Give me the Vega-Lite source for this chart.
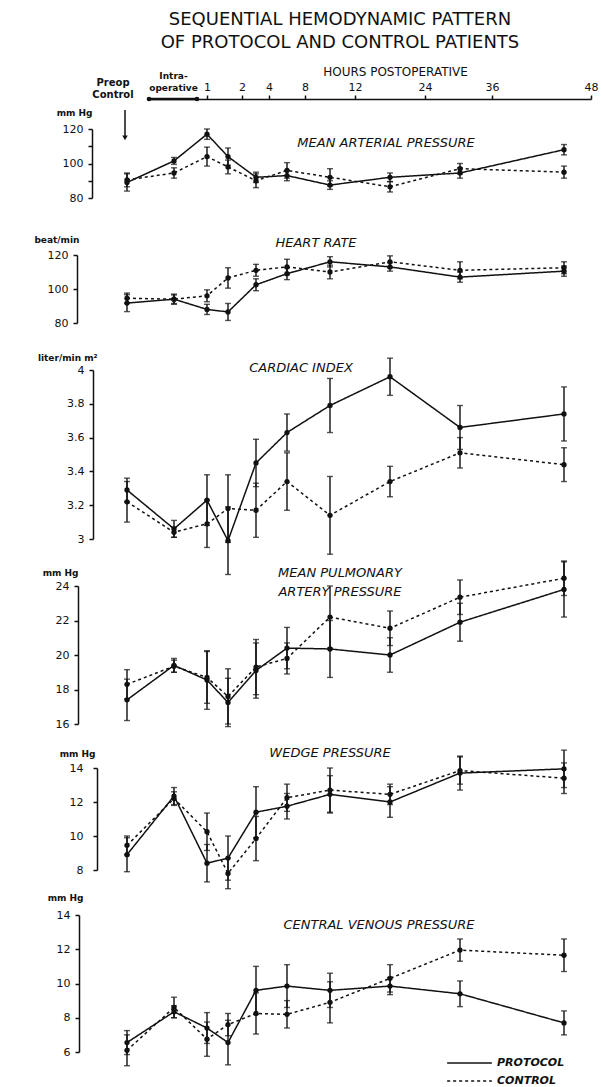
{
  "$schema": "https://vega.github.io/schema/vega-lite/v6.json",
  "autosize": {"type": "none"},
  "width": 498,
  "height": 1087,
  "padding": {"left": 97, "right": 7, "top": 0, "bottom": 0},
  "background": "white",
  "title": {
    "text": ["SEQUENTIAL HEMODYNAMIC PATTERN", "OF PROTOCOL AND CONTROL PATIENTS"],
    "font": "DejaVu Sans", "fontSize": 18, "fontWeight": "normal", "lineHeight": 23,
    "color": "#111", "anchor": "middle", "offset": -52, "dx": -6
  },
  "data": {"values": [
    {"measure": "MAP", "group": "PROTOCOL", "t": -2, "mean": 89, "sem": 5},
    {"measure": "MAP", "group": "PROTOCOL", "t": -1, "mean": 101.5, "sem": 2},
    {"measure": "MAP", "group": "PROTOCOL", "t": 1, "mean": 117, "sem": 3},
    {"measure": "MAP", "group": "PROTOCOL", "t": 2, "mean": 104, "sem": 5},
    {"measure": "MAP", "group": "PROTOCOL", "t": 4, "mean": 92, "sem": 3},
    {"measure": "MAP", "group": "PROTOCOL", "t": 8, "mean": 93, "sem": 3},
    {"measure": "MAP", "group": "PROTOCOL", "t": 12, "mean": 87.5, "sem": 2.5},
    {"measure": "MAP", "group": "PROTOCOL", "t": 24, "mean": 92, "sem": 2.5},
    {"measure": "MAP", "group": "PROTOCOL", "t": 36, "mean": 94.5, "sem": 3},
    {"measure": "MAP", "group": "PROTOCOL", "t": 48, "mean": 108, "sem": 3},
    {"measure": "MAP", "group": "CONTROL", "t": -2, "mean": 90.5, "sem": 4},
    {"measure": "MAP", "group": "CONTROL", "t": -1, "mean": 94.5, "sem": 3},
    {"measure": "MAP", "group": "CONTROL", "t": 1, "mean": 104, "sem": 5.5},
    {"measure": "MAP", "group": "CONTROL", "t": 2, "mean": 98, "sem": 4},
    {"measure": "MAP", "group": "CONTROL", "t": 4, "mean": 90, "sem": 4},
    {"measure": "MAP", "group": "CONTROL", "t": 8, "mean": 96, "sem": 4.5},
    {"measure": "MAP", "group": "CONTROL", "t": 12, "mean": 92, "sem": 5},
    {"measure": "MAP", "group": "CONTROL", "t": 24, "mean": 86.5, "sem": 3},
    {"measure": "MAP", "group": "CONTROL", "t": 36, "mean": 97, "sem": 3},
    {"measure": "MAP", "group": "CONTROL", "t": 48, "mean": 95, "sem": 3.5},
    {"measure": "HR", "group": "PROTOCOL", "t": -2, "mean": 91.7, "sem": 5},
    {"measure": "HR", "group": "PROTOCOL", "t": -1, "mean": 94, "sem": 3},
    {"measure": "HR", "group": "PROTOCOL", "t": 1, "mean": 88, "sem": 3},
    {"measure": "HR", "group": "PROTOCOL", "t": 2, "mean": 86.5, "sem": 5},
    {"measure": "HR", "group": "PROTOCOL", "t": 4, "mean": 102.5, "sem": 3.5},
    {"measure": "HR", "group": "PROTOCOL", "t": 8, "mean": 109, "sem": 3.5},
    {"measure": "HR", "group": "PROTOCOL", "t": 12, "mean": 116, "sem": 3},
    {"measure": "HR", "group": "PROTOCOL", "t": 24, "mean": 113, "sem": 2.5},
    {"measure": "HR", "group": "PROTOCOL", "t": 36, "mean": 107, "sem": 3},
    {"measure": "HR", "group": "PROTOCOL", "t": 48, "mean": 110.5, "sem": 3},
    {"measure": "HR", "group": "CONTROL", "t": -2, "mean": 94.6, "sem": 3},
    {"measure": "HR", "group": "CONTROL", "t": -1, "mean": 94, "sem": 2.5},
    {"measure": "HR", "group": "CONTROL", "t": 1, "mean": 96, "sem": 3.5},
    {"measure": "HR", "group": "CONTROL", "t": 2, "mean": 106.5, "sem": 6},
    {"measure": "HR", "group": "CONTROL", "t": 4, "mean": 111, "sem": 3.5},
    {"measure": "HR", "group": "CONTROL", "t": 8, "mean": 113, "sem": 4.5},
    {"measure": "HR", "group": "CONTROL", "t": 12, "mean": 110, "sem": 4},
    {"measure": "HR", "group": "CONTROL", "t": 24, "mean": 116, "sem": 3.5},
    {"measure": "HR", "group": "CONTROL", "t": 36, "mean": 111, "sem": 5},
    {"measure": "HR", "group": "CONTROL", "t": 48, "mean": 112.5, "sem": 3.5},
    {"measure": "CI", "group": "PROTOCOL", "t": -2, "mean": 3.29, "sem": 0.07},
    {"measure": "CI", "group": "PROTOCOL", "t": -1, "mean": 3.06, "sem": 0.05},
    {"measure": "CI", "group": "PROTOCOL", "t": 1, "mean": 3.23, "sem": 0.15},
    {"measure": "CI", "group": "PROTOCOL", "t": 2, "mean": 2.99, "sem": 0.2},
    {"measure": "CI", "group": "PROTOCOL", "t": 4, "mean": 3.45, "sem": 0.14},
    {"measure": "CI", "group": "PROTOCOL", "t": 8, "mean": 3.63, "sem": 0.11},
    {"measure": "CI", "group": "PROTOCOL", "t": 12, "mean": 3.79, "sem": 0.16},
    {"measure": "CI", "group": "PROTOCOL", "t": 24, "mean": 3.96, "sem": 0.11},
    {"measure": "CI", "group": "PROTOCOL", "t": 36, "mean": 3.66, "sem": 0.13},
    {"measure": "CI", "group": "PROTOCOL", "t": 48, "mean": 3.74, "sem": 0.16},
    {"measure": "CI", "group": "CONTROL", "t": -2, "mean": 3.22, "sem": 0.12},
    {"measure": "CI", "group": "CONTROL", "t": -1, "mean": 3.04, "sem": 0.03},
    {"measure": "CI", "group": "CONTROL", "t": 1, "mean": 3.09, "sem": 0.14},
    {"measure": "CI", "group": "CONTROL", "t": 2, "mean": 3.18, "sem": 0.2},
    {"measure": "CI", "group": "CONTROL", "t": 4, "mean": 3.17, "sem": 0.16},
    {"measure": "CI", "group": "CONTROL", "t": 8, "mean": 3.34, "sem": 0.17},
    {"measure": "CI", "group": "CONTROL", "t": 12, "mean": 3.14, "sem": 0.23},
    {"measure": "CI", "group": "CONTROL", "t": 24, "mean": 3.34, "sem": 0.09},
    {"measure": "CI", "group": "CONTROL", "t": 36, "mean": 3.51, "sem": 0.09},
    {"measure": "CI", "group": "CONTROL", "t": 48, "mean": 3.44, "sem": 0.1},
    {"measure": "MPAP", "group": "PROTOCOL", "t": -2, "mean": 17.4, "sem": 1.2},
    {"measure": "MPAP", "group": "PROTOCOL", "t": -1, "mean": 19.4, "sem": 0.4},
    {"measure": "MPAP", "group": "PROTOCOL", "t": 1, "mean": 18.55, "sem": 1.7},
    {"measure": "MPAP", "group": "PROTOCOL", "t": 2, "mean": 17.25, "sem": 1.4},
    {"measure": "MPAP", "group": "PROTOCOL", "t": 4, "mean": 19.1, "sem": 1.6},
    {"measure": "MPAP", "group": "PROTOCOL", "t": 8, "mean": 20.4, "sem": 1.2},
    {"measure": "MPAP", "group": "PROTOCOL", "t": 12, "mean": 20.35, "sem": 1.65},
    {"measure": "MPAP", "group": "PROTOCOL", "t": 24, "mean": 20, "sem": 1},
    {"measure": "MPAP", "group": "PROTOCOL", "t": 36, "mean": 21.9, "sem": 1.1},
    {"measure": "MPAP", "group": "PROTOCOL", "t": 48, "mean": 23.8, "sem": 1.6},
    {"measure": "MPAP", "group": "CONTROL", "t": -2, "mean": 18.3, "sem": 0.85},
    {"measure": "MPAP", "group": "CONTROL", "t": -1, "mean": 19.35, "sem": 0.35},
    {"measure": "MPAP", "group": "CONTROL", "t": 1, "mean": 18.7, "sem": 1.5},
    {"measure": "MPAP", "group": "CONTROL", "t": 2, "mean": 17.6, "sem": 1.6},
    {"measure": "MPAP", "group": "CONTROL", "t": 4, "mean": 19.3, "sem": 1.6},
    {"measure": "MPAP", "group": "CONTROL", "t": 8, "mean": 19.8, "sem": 0.9},
    {"measure": "MPAP", "group": "CONTROL", "t": 12, "mean": 22.2, "sem": 1.8},
    {"measure": "MPAP", "group": "CONTROL", "t": 24, "mean": 21.55, "sem": 1},
    {"measure": "MPAP", "group": "CONTROL", "t": 36, "mean": 23.35, "sem": 1},
    {"measure": "MPAP", "group": "CONTROL", "t": 48, "mean": 24.45, "sem": 1},
    {"measure": "WEDGE", "group": "PROTOCOL", "t": -2, "mean": 8.9, "sem": 1},
    {"measure": "WEDGE", "group": "PROTOCOL", "t": -1, "mean": 12.35, "sem": 0.5},
    {"measure": "WEDGE", "group": "PROTOCOL", "t": 1, "mean": 8.4, "sem": 1.1},
    {"measure": "WEDGE", "group": "PROTOCOL", "t": 2, "mean": 8.7, "sem": 1.3},
    {"measure": "WEDGE", "group": "PROTOCOL", "t": 4, "mean": 11.4, "sem": 1.5},
    {"measure": "WEDGE", "group": "PROTOCOL", "t": 8, "mean": 11.75, "sem": 0.75},
    {"measure": "WEDGE", "group": "PROTOCOL", "t": 12, "mean": 12.45, "sem": 1.1},
    {"measure": "WEDGE", "group": "PROTOCOL", "t": 24, "mean": 12, "sem": 0.9},
    {"measure": "WEDGE", "group": "PROTOCOL", "t": 36, "mean": 13.7, "sem": 1},
    {"measure": "WEDGE", "group": "PROTOCOL", "t": 48, "mean": 13.95, "sem": 1.1},
    {"measure": "WEDGE", "group": "CONTROL", "t": -2, "mean": 9.45, "sem": 0.55},
    {"measure": "WEDGE", "group": "CONTROL", "t": -1, "mean": 12.2, "sem": 0.4},
    {"measure": "WEDGE", "group": "CONTROL", "t": 1, "mean": 10.25, "sem": 1.1},
    {"measure": "WEDGE", "group": "CONTROL", "t": 2, "mean": 7.8, "sem": 0.9},
    {"measure": "WEDGE", "group": "CONTROL", "t": 4, "mean": 9.85, "sem": 1.3},
    {"measure": "WEDGE", "group": "CONTROL", "t": 8, "mean": 12.25, "sem": 0.8},
    {"measure": "WEDGE", "group": "CONTROL", "t": 12, "mean": 12.7, "sem": 1.3},
    {"measure": "WEDGE", "group": "CONTROL", "t": 24, "mean": 12.45, "sem": 0.6},
    {"measure": "WEDGE", "group": "CONTROL", "t": 36, "mean": 13.85, "sem": 0.8},
    {"measure": "WEDGE", "group": "CONTROL", "t": 48, "mean": 13.4, "sem": 0.9},
    {"measure": "CVP", "group": "PROTOCOL", "t": -2, "mean": 6.55, "sem": 0.7},
    {"measure": "CVP", "group": "PROTOCOL", "t": -1, "mean": 8.35, "sem": 0.35},
    {"measure": "CVP", "group": "PROTOCOL", "t": 1, "mean": 7.4, "sem": 0.9},
    {"measure": "CVP", "group": "PROTOCOL", "t": 2, "mean": 6.55, "sem": 1.3},
    {"measure": "CVP", "group": "PROTOCOL", "t": 4, "mean": 9.6, "sem": 1.4},
    {"measure": "CVP", "group": "PROTOCOL", "t": 8, "mean": 9.85, "sem": 1.25},
    {"measure": "CVP", "group": "PROTOCOL", "t": 12, "mean": 9.6, "sem": 1},
    {"measure": "CVP", "group": "PROTOCOL", "t": 24, "mean": 9.85, "sem": 0.5},
    {"measure": "CVP", "group": "PROTOCOL", "t": 36, "mean": 9.4, "sem": 0.75},
    {"measure": "CVP", "group": "PROTOCOL", "t": 48, "mean": 7.7, "sem": 0.7},
    {"measure": "CVP", "group": "CONTROL", "t": -2, "mean": 6.1, "sem": 0.9},
    {"measure": "CVP", "group": "CONTROL", "t": -1, "mean": 8.6, "sem": 0.6},
    {"measure": "CVP", "group": "CONTROL", "t": 1, "mean": 6.75, "sem": 1},
    {"measure": "CVP", "group": "CONTROL", "t": 2, "mean": 7.6, "sem": 0.65},
    {"measure": "CVP", "group": "CONTROL", "t": 4, "mean": 8.25, "sem": 1.2},
    {"measure": "CVP", "group": "CONTROL", "t": 8, "mean": 8.2, "sem": 0.8},
    {"measure": "CVP", "group": "CONTROL", "t": 12, "mean": 8.9, "sem": 1.2},
    {"measure": "CVP", "group": "CONTROL", "t": 24, "mean": 10.3, "sem": 0.8},
    {"measure": "CVP", "group": "CONTROL", "t": 36, "mean": 11.95, "sem": 0.65},
    {"measure": "CVP", "group": "CONTROL", "t": 48, "mean": 11.65, "sem": 0.95}
  ]},
  "resolve": {"scale": {"x": "independent", "y": "independent"}},
  "layer": [
    {
      "data": {"values": [{"phase": "Intra-operative", "h0": -2, "h1": 0}]},
      "encoding": {
        "x": {"field": "h0", "type": "quantitative",
          "scale": {"domain": [-2, 0, 1, 2, 4, 8, 12, 24, 36, 48], "range": [52, 100, 110, 145, 172, 208, 258, 328, 395, 494], "nice": false, "zero": false},
          "axis": {"orient": "top", "offset": -99, "values": [-1, 1, 2, 4, 8, 12, 24, 36, 48],
            "labelExpr": "datum.value === -1 ? ['Intra-', 'operative'] : datum.label",
            "tickOpacity": {"condition": {"test": "datum.value === -1", "value": 0}, "value": 1},
            "labelFontSize": {"condition": {"test": "datum.value === -1", "value": 9}, "value": 11},
            "labelFontWeight": {"condition": {"test": "datum.value === -1", "value": "bold"}, "value": "normal"},
            "labelPadding": {"condition": {"test": "datum.value === -1", "value": 15}, "value": 3},
            "labelLineHeight": 12,
            "tickSize": 4, "labelOverlap": false, "labelFlush": false, "labelBound": false,
            "title": "HOURS POSTOPERATIVE", "titleFontSize": 12, "titleFontWeight": "normal",
            "titleX": 298, "titleY": -24, "titleAlign": "center", "titleBaseline": "alphabetic"}},
        "y": {"datum": 0, "type": "quantitative", "scale": {"domain": [0, 1], "range": [99, 60], "nice": false, "zero": false}, "axis": null}
      },
      "layer": [
        {"mark": {"type": "rule", "strokeWidth": 2.5, "color": "#111"}, "encoding": {"x2": {"field": "h1"}}},
        {"mark": {"type": "point", "filled": true, "size": 22, "color": "#111", "opacity": 1}},
        {"mark": {"type": "point", "filled": true, "size": 22, "color": "#111", "opacity": 1}, "encoding": {"x": {"field": "h1", "type": "quantitative"}}}
      ]
    },
    {
      "layer": [
        {
          "transform": [{"filter": "datum.measure === 'MAP'"}],
          "encoding": {
            "x": {"field": "t", "type": "quantitative", "scale": {"domain": [-2, -1, 1, 2, 4, 8, 12, 24, 36, 48], "range": [30, 77, 110, 131, 159, 190, 233, 293, 363, 467], "nice": false, "zero": false}, "axis": null},
            "y": {"field": "mean", "type": "quantitative", "scale": {"domain": [80, 120], "range": [198, 129], "nice": false, "zero": false},
              "axis": {"orient": "left", "offset": 5, "values": [80, 90, 100, 110, 120], "format": "d", "labelExpr": "datum.value % 20 === 0 ? datum.label : ''",
                "title": "mm Hg", "titleAngle": 0, "titleAlign": "right", "titleBaseline": "middle", "titleX": 0, "titleY": 112, "titleFontSize": 9, "titleFontWeight": "bold"}}
          },
          "layer": [
            {"mark": {"type": "errorbar", "ticks": {"size": 6}, "thickness": 1.4, "color": "#111"}, "encoding": {"yError": {"field": "sem"}, "detail": {"field": "group"}}},
            {"mark": {"type": "line", "color": "#111", "strokeWidth": 1.5}, "encoding": {"strokeDash": {"field": "group", "type": "nominal", "scale": {"domain": ["PROTOCOL", "CONTROL"], "range": [[1, 0], [3, 3]]},
              "legend": {"title": null, "orient": "none", "legendX": 349, "legendY": 1054, "symbolType": "stroke", "symbolSize": 2000, "symbolStrokeWidth": 1.5, "symbolStrokeColor": "#111",
                "labelFont": "DejaVu Sans", "labelFontStyle": "italic", "labelFontWeight": "bold", "labelFontSize": 11, "labelColor": "#111", "clipHeight": 18, "rowPadding": 0, "padding": 0, "labelOffset": 4}}}},
            {"mark": {"type": "point", "filled": true, "color": "#111", "size": 28, "opacity": 1}}
          ]
        },
        {"data": {"values": [{}]}, "mark": {"type": "text", "text": "MEAN ARTERIAL PRESSURE", "fontSize": 13, "fontStyle": "italic", "align": "center", "baseline": "middle"},
          "encoding": {"x": {"datum": 23.2, "type": "quantitative"}, "y": {"datum": 111.9, "type": "quantitative"}}},
        {"data": {"values": [{}]}, "mark": {"type": "text", "text": ["Preop", "Control"], "fontSize": 10, "fontWeight": "bold", "lineHeight": 12, "align": "center", "baseline": "middle", "dx": -14},
          "encoding": {"x": {"datum": -2, "type": "quantitative"}, "y": {"datum": 146.5, "type": "quantitative"}}},
        {"data": {"values": [{}]}, "mark": {"type": "rule", "strokeWidth": 1.5, "color": "#111", "xOffset": -2},
          "encoding": {"x": {"datum": -2, "type": "quantitative"}, "y": {"datum": 131, "type": "quantitative"}, "y2": {"datum": 115.5}}},
        {"data": {"values": [{}]}, "mark": {"type": "point", "shape": "triangle-down", "filled": true, "size": 30, "color": "#111", "opacity": 1, "xOffset": -2},
          "encoding": {"x": {"datum": -2, "type": "quantitative"}, "y": {"datum": 114.8, "type": "quantitative"}}}
      ]
    },
    {
      "layer": [
        {
          "transform": [{"filter": "datum.measure === 'HR'"}],
          "encoding": {
            "x": {"field": "t", "type": "quantitative", "scale": {"domain": [-2, -1, 1, 2, 4, 8, 12, 24, 36, 48], "range": [30, 77, 110, 131, 159, 190, 233, 293, 363, 467], "nice": false, "zero": false}, "axis": null},
            "y": {"field": "mean", "type": "quantitative", "scale": {"domain": [80, 120], "range": [323, 255], "nice": false, "zero": false},
              "axis": {"orient": "left", "offset": 20, "values": [80, 100, 120], "format": "d",
                "title": "beat/min", "titleAngle": 0, "titleAlign": "right", "titleBaseline": "middle", "titleX": 2, "titleY": 239, "titleFontSize": 9, "titleFontWeight": "bold"}}
          },
          "layer": [
            {"mark": {"type": "errorbar", "ticks": {"size": 6}, "thickness": 1.4, "color": "#111"}, "encoding": {"yError": {"field": "sem"}, "detail": {"field": "group"}}},
            {"mark": {"type": "line", "color": "#111", "strokeWidth": 1.5}, "encoding": {"strokeDash": {"field": "group", "type": "nominal", "scale": {"domain": ["PROTOCOL", "CONTROL"], "range": [[1, 0], [3, 3]]},
              "legend": {"title": null, "orient": "none", "legendX": 349, "legendY": 1054, "symbolType": "stroke", "symbolSize": 2000, "symbolStrokeWidth": 1.5, "symbolStrokeColor": "#111",
                "labelFont": "DejaVu Sans", "labelFontStyle": "italic", "labelFontWeight": "bold", "labelFontSize": 11, "labelColor": "#111", "clipHeight": 18, "rowPadding": 0, "padding": 0, "labelOffset": 4}}}},
            {"mark": {"type": "point", "filled": true, "color": "#111", "size": 28, "opacity": 1}}
          ]
        },
        {"data": {"values": [{}]}, "mark": {"type": "text", "text": "HEART RATE", "fontSize": 13, "fontStyle": "italic", "align": "center", "baseline": "middle"},
          "encoding": {"x": {"datum": 10.7, "type": "quantitative"}, "y": {"datum": 127, "type": "quantitative"}}}
      ]
    },
    {
      "layer": [
        {
          "transform": [{"filter": "datum.measure === 'CI'"}],
          "encoding": {
            "x": {"field": "t", "type": "quantitative", "scale": {"domain": [-2, -1, 1, 2, 4, 8, 12, 24, 36, 48], "range": [30, 77, 110, 131, 159, 190, 233, 293, 363, 467], "nice": false, "zero": false}, "axis": null},
            "y": {"field": "mean", "type": "quantitative", "scale": {"domain": [3, 4], "range": [539, 370], "nice": false, "zero": false},
              "axis": {"orient": "left", "offset": 4, "values": [3, 3.2, 3.4, 3.6, 3.8, 4],
                "labelExpr": "datum.value % 1 === 0 ? format(datum.value, 'd') : format(datum.value, '.1f')",
                "title": "liter/min m²", "titleAngle": 0, "titleAlign": "right", "titleBaseline": "middle", "titleX": 4, "titleY": 357, "titleFontSize": 9, "titleFontWeight": "bold"}}
          },
          "layer": [
            {"mark": {"type": "errorbar", "ticks": {"size": 6}, "thickness": 1.4, "color": "#111"}, "encoding": {"yError": {"field": "sem"}, "detail": {"field": "group"}}},
            {"mark": {"type": "line", "color": "#111", "strokeWidth": 1.5}, "encoding": {"strokeDash": {"field": "group", "type": "nominal", "scale": {"domain": ["PROTOCOL", "CONTROL"], "range": [[1, 0], [3, 3]]},
              "legend": {"title": null, "orient": "none", "legendX": 349, "legendY": 1054, "symbolType": "stroke", "symbolSize": 2000, "symbolStrokeWidth": 1.5, "symbolStrokeColor": "#111",
                "labelFont": "DejaVu Sans", "labelFontStyle": "italic", "labelFontWeight": "bold", "labelFontSize": 11, "labelColor": "#111", "clipHeight": 18, "rowPadding": 0, "padding": 0, "labelOffset": 4}}}},
            {"mark": {"type": "point", "filled": true, "color": "#111", "size": 28, "opacity": 1}}
          ]
        },
        {"data": {"values": [{}]}, "mark": {"type": "text", "text": "CARDIAC INDEX", "fontSize": 13, "fontStyle": "italic", "align": "center", "baseline": "middle"},
          "encoding": {"x": {"datum": 9.3, "type": "quantitative"}, "y": {"datum": 4.01, "type": "quantitative"}}}
      ]
    },
    {
      "layer": [
        {
          "transform": [{"filter": "datum.measure === 'MPAP'"}],
          "encoding": {
            "x": {"field": "t", "type": "quantitative", "scale": {"domain": [-2, -1, 1, 2, 4, 8, 12, 24, 36, 48], "range": [30, 77, 110, 131, 159, 190, 233, 293, 363, 467], "nice": false, "zero": false}, "axis": null},
            "y": {"field": "mean", "type": "quantitative", "scale": {"domain": [16, 24], "range": [724, 586], "nice": false, "zero": false},
              "axis": {"orient": "left", "offset": 19, "values": [16, 18, 20, 22, 24], "format": "d",
                "title": "mm Hg", "titleAngle": 0, "titleAlign": "right", "titleBaseline": "middle", "titleX": 0, "titleY": 572, "titleFontSize": 9, "titleFontWeight": "bold"}}
          },
          "layer": [
            {"mark": {"type": "errorbar", "ticks": {"size": 6}, "thickness": 1.4, "color": "#111"}, "encoding": {"yError": {"field": "sem"}, "detail": {"field": "group"}}},
            {"mark": {"type": "line", "color": "#111", "strokeWidth": 1.5}, "encoding": {"strokeDash": {"field": "group", "type": "nominal", "scale": {"domain": ["PROTOCOL", "CONTROL"], "range": [[1, 0], [3, 3]]},
              "legend": {"title": null, "orient": "none", "legendX": 349, "legendY": 1054, "symbolType": "stroke", "symbolSize": 2000, "symbolStrokeWidth": 1.5, "symbolStrokeColor": "#111",
                "labelFont": "DejaVu Sans", "labelFontStyle": "italic", "labelFontWeight": "bold", "labelFontSize": 11, "labelColor": "#111", "clipHeight": 18, "rowPadding": 0, "padding": 0, "labelOffset": 4}}}},
            {"mark": {"type": "point", "filled": true, "color": "#111", "size": 28, "opacity": 1}}
          ]
        },
        {"data": {"values": [{}]}, "mark": {"type": "text", "text": ["MEAN PULMONARY", "ARTERY PRESSURE"], "fontSize": 13, "fontStyle": "italic", "lineHeight": 19, "align": "center", "baseline": "middle"},
          "encoding": {"x": {"datum": 14, "type": "quantitative"}, "y": {"datum": 24.75, "type": "quantitative"}}}
      ]
    },
    {
      "layer": [
        {
          "transform": [{"filter": "datum.measure === 'WEDGE'"}],
          "encoding": {
            "x": {"field": "t", "type": "quantitative", "scale": {"domain": [-2, -1, 1, 2, 4, 8, 12, 24, 36, 48], "range": [30, 77, 110, 131, 159, 190, 233, 293, 363, 467], "nice": false, "zero": false}, "axis": null},
            "y": {"field": "mean", "type": "quantitative", "scale": {"domain": [8, 14], "range": [870, 768], "nice": false, "zero": false},
              "axis": {"orient": "left", "offset": 0, "labelPadding": 10, "values": [8, 10, 12, 14], "format": "d",
                "title": "mm Hg", "titleAngle": 0, "titleAlign": "right", "titleBaseline": "middle", "titleX": -2, "titleY": 753, "titleFontSize": 9, "titleFontWeight": "bold"}}
          },
          "layer": [
            {"mark": {"type": "errorbar", "ticks": {"size": 6}, "thickness": 1.4, "color": "#111"}, "encoding": {"yError": {"field": "sem"}, "detail": {"field": "group"}}},
            {"mark": {"type": "line", "color": "#111", "strokeWidth": 1.5}, "encoding": {"strokeDash": {"field": "group", "type": "nominal", "scale": {"domain": ["PROTOCOL", "CONTROL"], "range": [[1, 0], [3, 3]]},
              "legend": {"title": null, "orient": "none", "legendX": 349, "legendY": 1054, "symbolType": "stroke", "symbolSize": 2000, "symbolStrokeWidth": 1.5, "symbolStrokeColor": "#111",
                "labelFont": "DejaVu Sans", "labelFontStyle": "italic", "labelFontWeight": "bold", "labelFontSize": 11, "labelColor": "#111", "clipHeight": 18, "rowPadding": 0, "padding": 0, "labelOffset": 4}}}},
            {"mark": {"type": "point", "filled": true, "color": "#111", "size": 28, "opacity": 1}}
          ]
        },
        {"data": {"values": [{}]}, "mark": {"type": "text", "text": "WEDGE PRESSURE", "fontSize": 13, "fontStyle": "italic", "align": "center", "baseline": "middle"},
          "encoding": {"x": {"datum": 12, "type": "quantitative"}, "y": {"datum": 14.88, "type": "quantitative"}}}
      ]
    },
    {
      "layer": [
        {
          "transform": [{"filter": "datum.measure === 'CVP'"}],
          "encoding": {
            "x": {"field": "t", "type": "quantitative", "scale": {"domain": [-2, -1, 1, 2, 4, 8, 12, 24, 36, 48], "range": [30, 77, 110, 131, 159, 190, 233, 293, 363, 467], "nice": false, "zero": false}, "axis": null},
            "y": {"field": "mean", "type": "quantitative", "scale": {"domain": [6, 14], "range": [1052, 915], "nice": false, "zero": false},
              "axis": {"orient": "left", "offset": 18, "values": [6, 8, 10, 12, 14], "format": "d",
                "title": "mm Hg", "titleAngle": 0, "titleAlign": "right", "titleBaseline": "middle", "titleX": 4, "titleY": 897, "titleFontSize": 9, "titleFontWeight": "bold"}}
          },
          "layer": [
            {"mark": {"type": "errorbar", "ticks": {"size": 6}, "thickness": 1.4, "color": "#111"}, "encoding": {"yError": {"field": "sem"}, "detail": {"field": "group"}}},
            {"mark": {"type": "line", "color": "#111", "strokeWidth": 1.5}, "encoding": {"strokeDash": {"field": "group", "type": "nominal", "scale": {"domain": ["PROTOCOL", "CONTROL"], "range": [[1, 0], [3, 3]]},
              "legend": {"title": null, "orient": "none", "legendX": 349, "legendY": 1054, "symbolType": "stroke", "symbolSize": 2000, "symbolStrokeWidth": 1.5, "symbolStrokeColor": "#111",
                "labelFont": "DejaVu Sans", "labelFontStyle": "italic", "labelFontWeight": "bold", "labelFontSize": 11, "labelColor": "#111", "clipHeight": 18, "rowPadding": 0, "padding": 0, "labelOffset": 4}}}},
            {"mark": {"type": "point", "filled": true, "color": "#111", "size": 28, "opacity": 1}}
          ]
        },
        {"data": {"values": [{}]}, "mark": {"type": "text", "text": "CENTRAL VENOUS PRESSURE", "fontSize": 13, "fontStyle": "italic", "align": "center", "baseline": "middle"},
          "encoding": {"x": {"datum": 21.8, "type": "quantitative"}, "y": {"datum": 13.42, "type": "quantitative"}}}
      ]
    }
  ],
  "config": {
    "view": {"stroke": null},
    "font": "DejaVu Sans",
    "text": {"font": "DejaVu Sans", "color": "#111"},
    "axis": {"domainColor": "#111", "tickColor": "#111", "labelColor": "#111", "titleColor": "#111", "domainWidth": 1.5, "tickWidth": 1.5, "grid": false,
      "labelFont": "DejaVu Sans", "titleFont": "DejaVu Sans", "labelFontSize": 11, "tickSize": 4, "labelPadding": 5}
  }
}
